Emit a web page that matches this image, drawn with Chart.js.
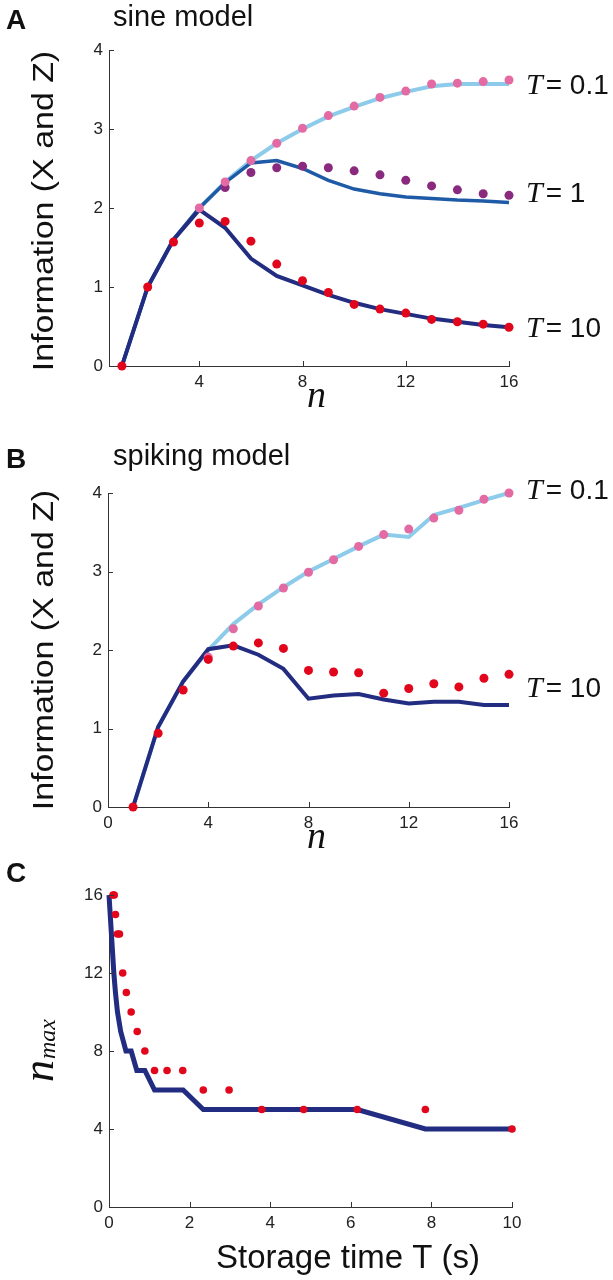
<!DOCTYPE html>
<html>
<head>
<meta charset="utf-8">
<script src="https://cdn.jsdelivr.net/npm/chart.js@4.4.1/dist/chart.umd.min.js"></script>
<style>
  body { margin:0; background:#fff; width:613px; height:1280px; position:relative; overflow:hidden; }
  .panel { position:absolute; left:0; width:613px; }
  canvas { display:block; }
</style>
</head>
<body>
<div class="panel" style="top:0;height:420px"><canvas id="chartA" width="613" height="420"></canvas></div>
<div class="panel" style="top:420px;height:440px"><canvas id="chartB" width="613" height="440"></canvas></div>
<div class="panel" style="top:860px;height:420px"><canvas id="chartC" width="613" height="420"></canvas></div>
<script>
// n = number of items
const nValues = [1,2,3,4,5,6,7,8,9,10,11,12,13,14,15,16];

// A: sine model (lines = theory, dots = simulation)
const sineLineT01 = [0, 1.0, 1.6, 2.0, 2.33, 2.6, 2.82, 3.0, 3.16, 3.28, 3.39, 3.47, 3.54, 3.57, 3.57, 3.57];
const sineLineT1  = [0, 1.0, 1.6, 2.0, 2.32, 2.57, 2.6, 2.5, 2.35, 2.24, 2.18, 2.14, 2.12, 2.1, 2.09, 2.07];
const sineLineT10 = [0, 1.0, 1.6, 1.98, 1.75, 1.36, 1.14, 1.02, 0.9, 0.8, 0.72, 0.66, 0.6, 0.56, 0.52, 0.49];
const sineDotsT01 = [null, null, null, 2.0, 2.33, 2.6, 2.82, 3.01, 3.17, 3.29, 3.4, 3.48, 3.57, 3.58, 3.6, 3.62];
const sineDotsT1  = [null, null, null, null, 2.26, 2.45, 2.51, 2.53, 2.51, 2.47, 2.42, 2.35, 2.28, 2.23, 2.18, 2.16];
const sineDotsT10 = [0, 1.0, 1.57, 1.81, 1.83, 1.58, 1.29, 1.08, 0.93, 0.78, 0.72, 0.67, 0.59, 0.56, 0.53, 0.49];

// B: spiking model
const spikeLineT01 = [0, 1.02, 1.6, 2.0, 2.33, 2.58, 2.8, 3.0, 3.16, 3.32, 3.47, 3.44, 3.72, 3.81, 3.91, 4.0];
const spikeLineT10 = [0, 1.02, 1.6, 2.01, 2.06, 1.94, 1.76, 1.38, 1.42, 1.44, 1.37, 1.32, 1.34, 1.34, 1.3, 1.3];
const spikeDotsT01 = [null, null, null, 1.91, 2.27, 2.56, 2.79, 2.99, 3.15, 3.32, 3.47, 3.54, 3.68, 3.78, 3.92, 4.0];
const spikeDotsT10 = [0, 0.94, 1.49, 1.88, 2.05, 2.09, 2.02, 1.74, 1.72, 1.71, 1.45, 1.51, 1.57, 1.53, 1.64, 1.69];

// C: n_max against storage time
const storageLineT = [0, 0.03, 0.06, 0.09, 0.12, 0.16, 0.21, 0.29, 0.42, 0.55, 0.69, 0.89, 1.13, 1.84, 2.34, 6.16, 7.85, 10];
const storageLineN = [16, 15, 14, 13, 12, 11, 10, 9, 8, 8, 7, 7, 6, 6, 5, 5, 4, 4];
const storageDotsT = [0.1, 0.13, 0.16, 0.21, 0.26, 0.34, 0.43, 0.55, 0.7, 0.89, 1.13, 1.44, 1.83, 2.34, 2.98, 3.79, 4.83, 6.16, 7.85, 10];
const storageDotsN = [16, 16, 15, 14, 14, 12, 11, 10, 9, 8, 7, 7, 7, 6, 6, 5, 5, 5, 5, 4];

// tick labels
const ticksNA = [4, 8, 12, 16];
const ticksNB = [0, 4, 8, 12, 16];
const ticksInfo = [0, 1, 2, 3, 4];
const ticksStorage = [0, 2, 4, 6, 8, 10];
const ticksNmax = [0, 4, 8, 12, 16];

const lightBlue = '#8ccbe9', midBlue = '#1f5aa6', navy = '#222c80';
const pink = '#e46aa3', purple = '#8a2a7f', red = '#e2061c';
const sans = '"Liberation Sans", Arial, sans-serif';
const serif = '"Liberation Serif", "Times New Roman", serif';

function pts(xs, ys){
  return xs.map((x,i)=>({x:x, y:ys[i]})).filter(p=>p.y!==null);
}
function lineSet(xs, ys, color, order, w){
  return {data:pts(xs,ys), showLine:true, borderColor:color, borderWidth:w||4, pointRadius:0, tension:0, order:order, clip:false};
}
function dotSet(xs, ys, color, order, r){
  return {data:pts(xs,ys), showLine:false, pointRadius:r||4.5, pointBackgroundColor:color, pointBorderWidth:0, order:order, clip:false};
}
function axis(min, max, tickList, fit){
  return {
    type:'linear', min:min, max:max,
    grid:{display:false, drawTicks:false},
    border:{display:true, color:'#333', width:1},
    ticks:{color:'#222', font:{family:sans, size:17}, padding:6, autoSkip:false, maxRotation:0},
    afterBuildTicks: s => { s.ticks = tickList.map(v=>({value:v})); },
    afterFit: fit
  };
}

// tick marks inside the axes and all the text
const decor = {
  id:'decor',
  afterDraw(chart, args, o){
    const ctx = chart.ctx;
    const xs = chart.scales.x, ys = chart.scales.y;
    const {left, bottom} = chart.chartArea;
    ctx.save();
    ctx.strokeStyle = '#333'; ctx.lineWidth = 1;
    ctx.beginPath();
    xs.ticks.forEach(t=>{ const p = Math.round(xs.getPixelForValue(t.value))+0.5; ctx.moveTo(p,bottom); ctx.lineTo(p,bottom-5); });
    ys.ticks.forEach(t=>{ const p = Math.round(ys.getPixelForValue(t.value))+0.5; ctx.moveTo(left,p); ctx.lineTo(left+5,p); });
    ctx.stroke();

    ctx.fillStyle = '#111';
    ctx.textBaseline = 'alphabetic';
    ctx.textAlign = 'left';
    ctx.font = 'bold 28px ' + sans;
    ctx.fillText(o.letter, 6, o.letterY);
    if(o.title){
      ctx.font = '29px ' + sans;
      ctx.fillText(o.title, 113, o.titleY);
    }
    // x title
    if(o.xItalic){
      ctx.font = 'italic 38px ' + serif;
      ctx.fillText(o.xTitle, 307, o.xTitleY);
    } else {
      ctx.font = '33px ' + sans;
      ctx.textAlign = 'center';
      ctx.fillText(o.xTitle, o.xTitleX, o.xTitleY);
      ctx.textAlign = 'left';
    }
    // y title
    ctx.save();
    ctx.translate(53, o.yTitleY);
    ctx.rotate(-Math.PI/2);
    if(o.yTitle === 'nmax'){
      ctx.font = 'italic 44px ' + serif;
      const wn = ctx.measureText('n').width;
      ctx.font = 'italic 24px ' + serif;
      const wm = ctx.measureText('max').width;
      const x0 = -(wn+wm)/2;
      ctx.font = 'italic 44px ' + serif;
      ctx.fillText('n', x0, 0);
      ctx.font = 'italic 24px ' + serif;
      ctx.fillText('max', x0+wn+1, 2);
    } else {
      ctx.scale(1.13, 1);
      ctx.font = '30px ' + sans;
      ctx.textAlign = 'center';
      ctx.fillText(o.yTitle, 0, 0);
    }
    ctx.restore();
    // T labels at the curve ends
    (o.tLabels||[]).forEach(l=>{
      const yb = ys.getPixelForValue(l.y) + 10;
      ctx.font = 'italic 30px ' + serif;
      ctx.fillText('T', 526, yb);
      const w = ctx.measureText('T').width;
      ctx.font = '28px ' + sans;
      ctx.fillText('= ' + l.text, 526 + w + 3, yb);
    });
    ctx.restore();
  }
};

function makeChart(id, datasets, xAxis, yAxis, padding, decorOpts){
  return new Chart(document.getElementById(id), {
    type:'scatter',
    data:{datasets:datasets},
    options:{
      responsive:false, animation:false, devicePixelRatio:1, events:[],
      layout:{padding:padding},
      scales:{x:xAxis, y:yAxis},
      plugins:{legend:{display:false}, tooltip:{enabled:false}, decor:decorOpts}
    },
    plugins:[decor]
  });
}

makeChart('chartA', [
  dotSet(nValues, sineDotsT10, red, 0),
  dotSet(nValues, sineDotsT01, pink, 1),
  dotSet(nValues, sineDotsT1, purple, 2),
  lineSet(nValues, sineLineT10, navy, 3),
  lineSet(nValues, sineLineT1, midBlue, 4, 3.5),
  lineSet(nValues, sineLineT01, lightBlue, 5)
], axis(0.5, 16, ticksNA, s=>{ s.height = 54; }), axis(0, 4, ticksInfo, s=>{ s.width = 109; }),
  {top:50, right:104, left:0, bottom:0},
  {letter:'A', letterY:29, title:'sine model', titleY:26, xTitle:'n', xItalic:true, xTitleY:407,
   yTitle:'Information (X and Z)', yTitleY:211,
   tLabels:[{text:'0.1', y:3.57}, {text:'1', y:2.2}, {text:'10', y:0.49}]});

makeChart('chartB', [
  dotSet(nValues, spikeDotsT10, red, 0),
  dotSet(nValues, spikeDotsT01, pink, 1),
  lineSet(nValues, spikeLineT10, navy, 3),
  lineSet(nValues, spikeLineT01, lightBlue, 5)
], axis(0, 16, ticksNB, s=>{ s.height = 53; }), axis(0, 4, ticksInfo, s=>{ s.width = 108; }),
  {top:73, right:104, left:0, bottom:0},
  {letter:'B', letterY:48, title:'spiking model', titleY:45, xTitle:'n', xItalic:true, xTitleY:428,
   yTitle:'Information (X and Z)', yTitleY:230,
   tLabels:[{text:'0.1', y:4.05}, {text:'10', y:1.53}]});

makeChart('chartC', [
  dotSet(storageDotsT, storageDotsN, red, 0, 3.8),
  lineSet(storageLineT, storageLineN, navy, 3, 5)
], axis(0, 10, ticksStorage, s=>{ s.height = 73; }), axis(0, 16, ticksNmax, s=>{ s.width = 109; }),
  {top:35, right:101, left:0, bottom:0},
  {letter:'C', letterY:22, xTitle:'Storage time T (s)', xTitleX:348, xTitleY:408,
   yTitle:'nmax', yTitleY:191});
</script>
</body>
</html>
